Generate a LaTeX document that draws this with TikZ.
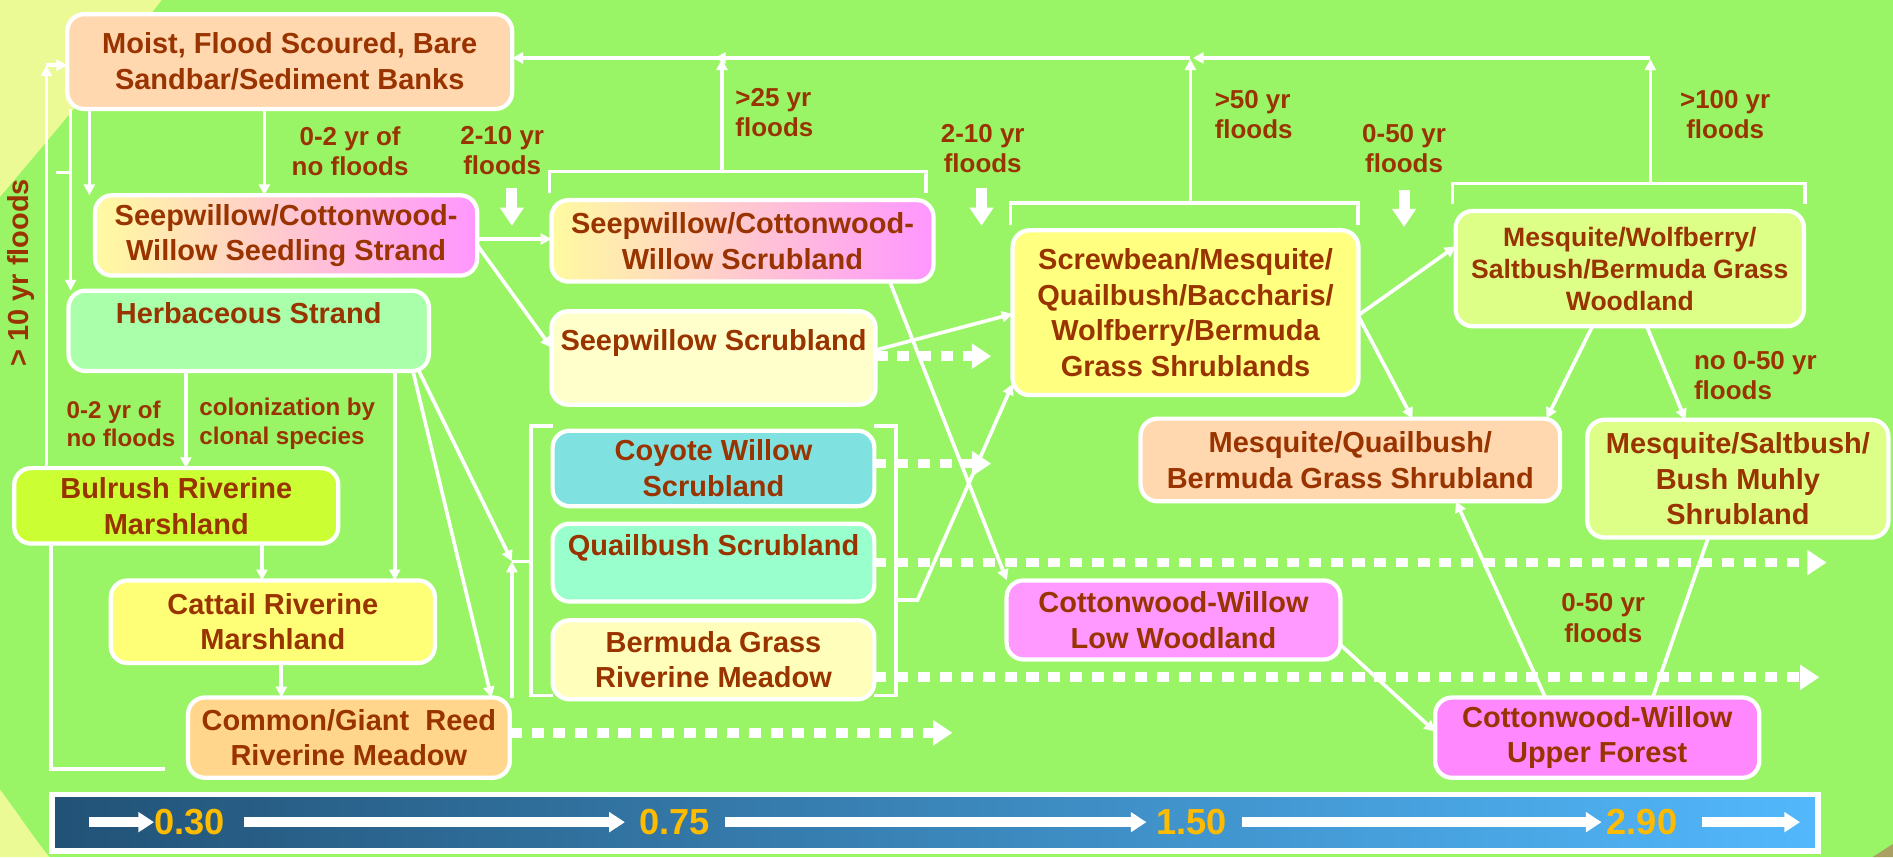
\documentclass[tikz,border=0pt]{standalone}
\usepackage{fontspec}
\setmainfont{Liberation Sans}
\usetikzlibrary{arrows.meta}
\definecolor{bg}{RGB}{153,245,102}
\definecolor{pale}{RGB}{236,250,150}
\definecolor{txt}{RGB}{153,51,0}
\definecolor{num}{RGB}{255,187,0}
\definecolor{cPeach}{RGB}{255,216,176}
\definecolor{cYel}{RGB}{255,250,160}
\definecolor{cMid}{RGB}{255,212,200}
\definecolor{cPink}{RGB}{255,150,255}
\definecolor{cMint}{RGB}{170,255,170}
\definecolor{cLime}{RGB}{204,255,51}
\definecolor{cCattail}{RGB}{255,255,119}
\definecolor{cReed}{RGB}{255,214,140}
\definecolor{cCream}{RGB}{255,255,204}
\definecolor{cCyan}{RGB}{128,226,224}
\definecolor{cAqua}{RGB}{153,255,204}
\definecolor{cBerm}{RGB}{255,255,187}
\definecolor{cScrew}{RGB}{255,255,128}
\definecolor{cLgreen}{RGB}{221,255,136}
\definecolor{cMag}{RGB}{255,153,255}
\definecolor{cMagB}{RGB}{255,136,255}
\definecolor{barL}{RGB}{34,82,118}
\definecolor{barR}{RGB}{82,184,252}
\definecolor{cornerc}{RGB}{170,160,100}
\begin{document}
\begin{tikzpicture}[x=1pt,y=-1pt,
  box/.style={draw=white, line width=3.5pt, rounded corners=14pt, align=center,
    text=txt, font=\bfseries\fontsize{24}{29.5}\selectfont, inner sep=0pt, outer sep=0pt},
  flow/.style={draw=white, line width=3pt, -{Triangle[length=9pt,width=9pt]}},
  wline/.style={draw=white, line width=3pt},
  dotarrow/.style={draw=white, line width=8pt, dash pattern=on 10pt off 8pt,
    -{Triangle[length=16pt,width=20pt]}},
  bigarrow/.style={draw=white, line width=9pt, -{Triangle[length=15pt,width=19pt]}},
  bararrow/.style={draw=white, line width=8pt, -{Triangle[length=13pt,width=16pt]}},
  lab/.style={text=txt, font=\bfseries\fontsize{21.5}{25}\selectfont, inner sep=0pt, align=center},
  labl/.style={text=txt, font=\bfseries\fontsize{20}{23.5}\selectfont, inner sep=0pt, align=left},
  numl/.style={text=num, font=\bfseries\fontsize{30}{30}\selectfont, inner sep=0pt},
]
% background
\useasboundingbox (0,0) rectangle (1568,710);
\fill[bg] (0,0) rectangle (1568,710);
\fill[pale] (0,0) -- (134,0) .. controls (95,50) and (45,110) .. (0,163) -- cycle;
\fill[pale] (0,654) .. controls (15,674) and (28,694) .. (41,710) -- (0,710) -- cycle;
\fill[cornerc] (1551,710) -- (1568,699) -- (1568,710) -- cycle;

% bottom bar
\node[draw=white, line width=4.5pt, left color=barL, right color=barR,
  minimum width=1462.5pt, minimum height=46.5pt, inner sep=0pt, outer sep=0pt] (bar) at (774.5,681.5) {};
\node[numl] (n1) at (157,681) {0.30};
\node[numl] (n2) at (559,681) {0.75};
\node[numl] (n3) at (987,681) {1.50};
\node[numl] (n4) at (1360,681) {2.90};
\coordinate (b0) at (74,681);
\coordinate (b5) at (1491,681);
\draw[bararrow] (b0) -- (n1.west);
\draw[bararrow] (n1.east) ++(16,0) -- ([xshift=-12pt]n2.west);
\draw[bararrow] (n2.east) ++(12,0) -- ([xshift=-8pt]n3.west);
\draw[bararrow] (n3.east) ++(12,0) -- ([xshift=-4pt]n4.west);
\draw[bararrow] (n4.east) ++(20,0) -- (b5);

% boxes
\node[box, fill=cPeach, minimum width=368.5pt, minimum height=78.5pt] (moist) at (240,51)
  {Moist, Flood Scoured, Bare\\Sandbar/Sediment Banks};
\node[box, left color=cYel, middle color=cMid, right color=cPink, minimum width=316.5pt, minimum height=66.5pt] (seed) at (237,195)
  {Seepwillow/Cottonwood-\\Willow Seedling Strand};
\node[box, fill=cMint, minimum width=298.5pt, minimum height=66.5pt] (herb) at (206,274)
  {Herbaceous Strand\\\mbox{}};
\node[box, fill=cLime, minimum width=268.5pt, minimum height=62.5pt] (bulrush) at (146,419)
  {Bulrush Riverine\\Marshland};
\node[box, fill=cCattail, minimum width=268.5pt, minimum height=68.5pt] (cattail) at (226,515)
  {Cattail Riverine\\Marshland};
\node[box, fill=cReed, minimum width=266.5pt, minimum height=66.5pt] (reed) at (289,611)
  {Common/Giant~ Reed\\Riverine Meadow};
\node[box, left color=cYel, middle color=cMid, right color=cPink, minimum width=316.5pt, minimum height=67.5pt] (cwscrub) at (615,199.5)
  {Seepwillow/Cottonwood-\\Willow Scrubland};
\node[box, fill=cCream, minimum width=268.5pt, minimum height=77.5pt] (seepscrub) at (591,296.5)
  {Seepwillow Scrubland\\\mbox{}};
\node[box, fill=cCyan, minimum width=266.5pt, minimum height=62.5pt] (coyote) at (591,388)
  {Coyote Willow\\Scrubland};
\node[box, fill=cAqua, minimum width=266.5pt, minimum height=64.5pt] (quail) at (591,466)
  {Quailbush Scrubland\\\mbox{}};
\node[box, fill=cBerm, minimum width=266.5pt, minimum height=65.5pt] (bermuda) at (591,546.5)
  {Bermuda Grass\\Riverine Meadow};
\node[box, fill=cScrew, minimum width=286.5pt, minimum height=136.5pt] (screw) at (982,259)
  {Screwbean/Mesquite/\\Quailbush/Baccharis/\\Wolfberry/Bermuda\\Grass Shrublands};
\node[box, fill=cLgreen, minimum width=288.5pt, minimum height=95.5pt,
  font=\bfseries\fontsize{22}{26.5}\selectfont] (mwood) at (1350,222.5)
  {Mesquite/Wolfberry/\\Saltbush/Bermuda Grass\\Woodland};
\node[box, fill=cPeach, minimum width=347.5pt, minimum height=68.5pt] (mquail) at (1118.5,381)
  {Mesquite/Quailbush/\\Bermuda Grass Shrubland};
\node[box, fill=cLgreen, minimum width=249.5pt, minimum height=97.5pt] (msalt) at (1439.5,396.5)
  {Mesquite/Saltbush/\\Bush Muhly\\Shrubland};
\node[box, fill=cMag, minimum width=276.5pt, minimum height=65.5pt] (lowwood) at (972,513.5)
  {Cottonwood-Willow\\Low Woodland};
\node[box, fill=cMagB, minimum width=268.5pt, minimum height=66.5pt] (upper) at (1323,611)
  {Cottonwood-Willow\\Upper Forest};

% labels
\node[lab] (l1) at (290,125) {0-2 yr of\\no floods};
\node[lab] (l2) at (416,125) {2-10 yr\\floods};
\node[lab, align=left, anchor=west] (l3) at (609,93) {>25 yr\\floods};
\node[lab] (l4) at (814,123) {2-10 yr\\floods};
\node[lab, align=left, anchor=west] (l5) at (1006,95) {>50 yr\\floods};
\node[lab] (l6) at (1163,123) {0-50 yr\\floods};
\node[lab] (l7) at (1429,95) {>100 yr\\floods};
\node[lab, align=left, anchor=west] (l8) at (1403,311) {no 0-50 yr\\floods};
\node[lab] (l9) at (1328,512) {0-50 yr\\floods};
\node[lab, font=\bfseries\fontsize{24}{28}\selectfont, rotate=90] (l10) at (17,226) {> 10 yr floods};
\node[labl, anchor=west] (l11) at (55,351) {0-2 yr of\\no floods};
\node[labl, anchor=west] (l12) at (165,351) {colonization by\\clonal species};

% connectors from the bare banks
\draw[flow] (219,0 |- moist.south) -- (219,0 |- seed.north);
\draw[flow] (74,0 |- moist.south) -- (74,0 |- seed.north);
\draw[flow] (58.5,0 |- moist.south) -- (58.5,0 |- herb.north);
\coordinate (stub) at (46,143);
\draw[wline] (stub) -- (58.5,143);
% > 10 yr floods loop
\coordinate (lp1) at (137,637);
\coordinate (lpc) at (38.5,54);
\draw[wline] (lp1) -| (42,0 |- bulrush.south);
\draw[flow] (38.5,0 |- bulrush.north) -- (lpc);
\draw[flow] (lpc) -- (moist.west |- lpc);

% seedling strand
\draw[flow] (seed.east |- 0,198) -- (cwscrub.west |- 0,198);
\draw[flow] (seed.east |- 0,203) -- (seepscrub.west |- 0,288);

% herbaceous strand
\draw[flow] (154,0 |- herb.south) -- (154,0 |- bulrush.north);
\draw[flow] (327,0 |- herb.south) -- (327,0 |- cattail.north);
\draw[flow] (342,0 |- herb.south) -- (407,0 |- reed.north);
\coordinate (jn) at (424,465);
\draw[flow] (347,0 |- herb.south) -- (jn);
\draw[flow] (424,0 |- reed.north) -- (jn);
\draw[flow] (217,0 |- bulrush.south) -- (217,0 |- cattail.north);
\draw[flow] (233,0 |- cattail.south) -- (233,0 |- reed.north);

% brackets around the middle group
\draw[wline] (coyote.west |- 0,353) -- (440,353) -- (440,576) -- (bermuda.west |- 0,576);
\draw[wline] (jn) -- (440,0 |- jn);
\draw[wline] (coyote.east |- 0,353) -- (742,353) -- (742,576) -- (bermuda.east |- 0,576);
\coordinate (rb) at (742,497);
\draw[flow] (rb) -- (760,497) -- (screw.west |- 0,318);

% middle to right
\draw[flow] (737,0 |- cwscrub.south) -- (834,0 |- lowwood.north);
\draw[flow] (seepscrub.east |- 0,290) -- (screw.west |- 0,260);
\draw[flow] (screw.east |- 0,261) -- (mwood.west |- 0,204);
\draw[flow] (screw.east |- 0,262) -- (1170,0 |- mquail.north);
\draw[flow] (1319,0 |- mwood.south) -- (1281,0 |- mquail.north);
\draw[flow] (1364,0 |- mwood.south) -- (1396,0 |- msalt.north);
\draw[flow] (lowwood.east |- 0,534) -- (upper.west |- 0,606);
\draw[flow] (1280,0 |- upper.north) -- (1206,0 |- mquail.south);
\draw[wline] (1369,0 |- upper.north) -- (1415,0 |- msalt.south);

% top brackets and flood returns
\coordinate (t1) at (598,142);
\coordinate (t2) at (986,168);
\coordinate (t3) at (1367,152);
\draw[wline] (455,160) -- (455,142) -- (767,142) -- (767,160);
\draw[wline] (837,186) -- (837,168) -- (1125,168) -- (1125,186);
\draw[wline] (1203,169) -- (1203,152) -- (1495,152) -- (1495,169);
\draw[flow] (t1) -- (598,49);
\draw[flow] (t2) -- (986,49);
\draw[flow] (t3) -- (1367,49);
\draw[flow] (1367,48) -- (988,48);
\draw[flow] (986,48) -- (592,48);
\draw[flow] (598,48) -- (moist.east |- 0,48);

% large down arrows
\coordinate (d1) at (424,156);
\coordinate (d2) at (813,156);
\coordinate (d3) at (1163,157);
\draw[bigarrow] (d1) -- ++(0,31);
\draw[bigarrow] (d2) -- ++(0,31);
\draw[bigarrow] (d3) -- ++(0,31);

% dotted arrows
\coordinate (e1) at (821,295);
\coordinate (e2) at (821,384);
\coordinate (e3) at (1513,466);
\coordinate (e4) at (1507,561);
\coordinate (e5) at (789,607);
\draw[dotarrow] (seepscrub.east |- e1) -- (e1);
\draw[dotarrow] (coyote.east |- e2) -- (e2);
\draw[dotarrow] (quail.east |- e3) -- (e3);
\draw[dotarrow] (bermuda.east |- e4) -- (e4);
\draw[dotarrow] (reed.east |- e5) -- (e5);
\end{tikzpicture}
\end{document}
